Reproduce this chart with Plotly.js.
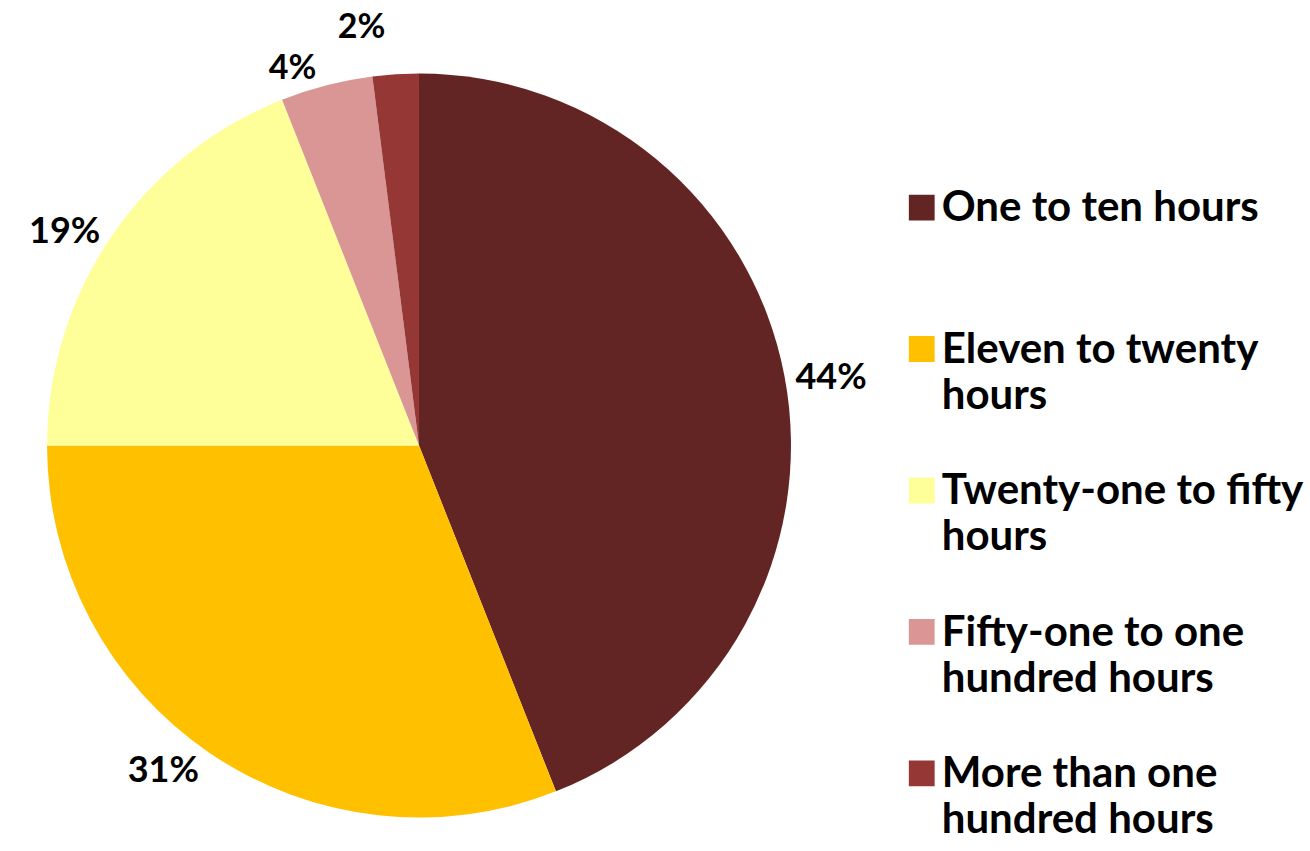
<!DOCTYPE html>
<html>
<head>
<meta charset="utf-8">
<script src="https://cdn.plot.ly/plotly-3.0.1.min.js"></script>
<style>
html,body{margin:0;padding:0;background:#fff;}
#chart{width:1310px;height:851px;}
#chart path.textline{display:none;}
</style>
</head>
<body>
<div id="chart"></div>
<script>
const categories = [
  ["One to ten hours"],
  ["Eleven to twenty", "hours"],
  ["Twenty-one to fifty", "hours"],
  ["Fifty-one to one", "hundred hours"],
  ["More than one", "hundred hours"]
];
const shares = [44, 31, 19, 4, 2];
const colors = ["#632523", "#FFC000", "#FFFF99", "#D99694", "#953735"];

const W = 1310, H = 851;
const FONT = "Lato, 'Open Sans', sans-serif";

// legend entries: all but the last padded to three lines so entries are evenly spaced
const legendLabels = categories.map((lines, i) => {
  const padded = lines.slice();
  const target = i === categories.length - 1 ? 2 : 3;
  while (padded.length < target) padded.push(" ");
  return padded.map(t => '<span style="font-size:42px">' + t + '</span>').join("<br>");
});

const labelSizes = [36, 36, 36, 34, 34];

const trace = {
  type: "pie",
  labels: legendLabels,
  values: shares,
  sort: false,
  direction: "clockwise",
  rotation: 0,
  marker: {colors: colors, line: {width: 0}},
  textinfo: "percent",
  textposition: "outside",
  outsidetextfont: {family: FONT, size: labelSizes, color: "#000", weight: "bold"},
  textfont: {family: FONT, size: labelSizes, color: "#000", weight: "bold"},
  domain: {x: [48 / W, 807 / W], y: [(H - 825) / H, (H - 66) / H]},
  hoverinfo: "percent"
};
const layout = {
  width: W, height: H,
  margin: {l: 0, r: 0, t: 0, b: 0},
  paper_bgcolor: "#fff",
  showlegend: true,
  legend: {
    x: 920 / W, xanchor: "left",
    y: 1 - 178 / H, yanchor: "top",
    valign: "top",
    font: {family: FONT, size: 35.5, color: "#000", weight: "bold"},
    bgcolor: "rgba(0,0,0,0)"
  }
};
Plotly.newPlot("chart", [trace], layout, {displayModeBar: false, staticPlot: true}).then(gd => {
  gd.querySelectorAll("path.legendpie").forEach(p => {
    const t = p.getAttribute("transform") || "";
    p.setAttribute("transform", t + " scale(2.15)");
  });
});
</script>
</body>
</html>
